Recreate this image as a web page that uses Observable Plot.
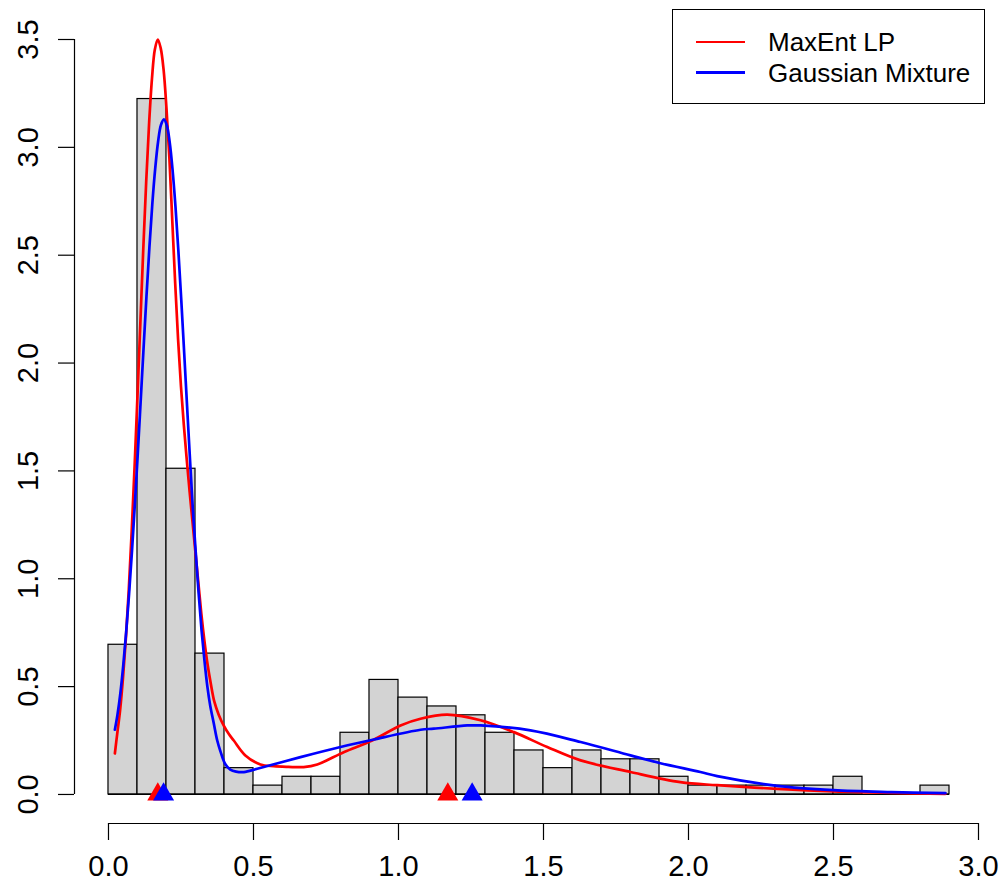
<!DOCTYPE html>
<html><head><meta charset="utf-8">
<script src="https://cdn.jsdelivr.net/npm/d3@7"></script>
<script src="https://cdn.jsdelivr.net/npm/@observablehq/plot@0.6"></script>
<style>
body{margin:0;background:#fff;}
#wrap{position:relative;width:1006px;height:888px;font-family:"Liberation Sans",Arial,Helvetica,sans-serif;}
#legend{position:absolute;left:672px;top:9px;width:313px;height:95px;box-sizing:border-box;border:1.3px solid #000;background:#fff;}
.sw{position:absolute;left:23px;width:49px;height:2.5px;}
.lb{position:absolute;left:95px;font-size:26px;line-height:1;white-space:nowrap;transform:translateY(-50%);color:#000;}
</style></head>
<body>
<div id="wrap"></div>
<script>
// Histogram bins (lower edges, width 0.1) and densities
const binLo = [0.0,0.1,0.2,0.3,0.4,0.5,0.6,0.7,0.8,0.9,1.0,1.1,1.2,1.3,1.4,1.5,1.6,1.7,1.8,1.9,2.0,2.1,2.2,2.3,2.4,2.5,2.6,2.7,2.8];
const binDensity = [0.694,3.224,1.510,0.653,0.122,0.041,0.082,0.082,0.286,0.531,0.449,0.408,0.367,0.286,0.204,0.122,0.204,0.163,0.163,0.082,0.041,0.041,0.041,0.041,0.041,0.082,0,0,0.041];
const binWidth = 0.1;

// MaxEnt LP density curve
const maxentX = [0.022,0.03,0.04,0.05,0.06,0.07,0.08,0.09,0.10,0.11,0.12,0.13,0.14,0.15,0.16,0.17,0.18,0.19,0.20,0.21,0.22,0.23,0.24,0.25,0.26,0.27,0.28,0.29,0.30,0.31,0.32,0.331,0.342,0.352,0.365,0.380,0.398,0.415,0.432,0.472,0.524,0.570,0.620,0.673,0.720,0.811,0.909,1.007,1.076,1.168,1.283,1.398,1.513,1.628,1.800,1.972,2.099,2.306,2.500,2.700,2.886];
const maxentY = [0.19,0.28,0.39,0.54,0.725,0.95,1.22,1.52,1.85,2.19,2.53,2.84,3.11,3.32,3.455,3.50,3.46,3.36,3.18,2.95,2.66,2.37,2.11,1.89,1.71,1.55,1.40,1.26,1.12,0.98,0.84,0.71,0.60,0.52,0.43,0.37,0.318,0.28,0.25,0.181,0.139,0.131,0.128,0.127,0.139,0.196,0.250,0.320,0.351,0.370,0.344,0.289,0.220,0.158,0.104,0.057,0.043,0.026,0.014,0.007,0.003];

// Gaussian Mixture density curve
const gmX = [0.022,0.031,0.041,0.051,0.061,0.071,0.081,0.091,0.101,0.111,0.121,0.131,0.141,0.151,0.161,0.171,0.181,0.191,0.201,0.211,0.221,0.231,0.241,0.251,0.261,0.271,0.281,0.291,0.301,0.311,0.321,0.331,0.341,0.351,0.363,0.375,0.386,0.403,0.420,0.440,0.467,0.513,0.662,0.800,0.915,1.076,1.122,1.237,1.283,1.455,1.628,1.800,1.903,2.041,2.099,2.306,2.500,2.700,2.886];
const gmY = [0.30,0.37,0.47,0.60,0.753,0.93,1.128,1.347,1.58,1.824,2.07,2.31,2.535,2.735,2.90,3.026,3.104,3.13,3.103,3.024,2.895,2.725,2.52,2.292,2.048,1.80,1.555,1.32,1.12,0.93,0.76,0.62,0.50,0.41,0.33,0.25,0.20,0.14,0.115,0.106,0.104,0.119,0.173,0.220,0.255,0.300,0.305,0.320,0.320,0.297,0.243,0.181,0.145,0.104,0.085,0.040,0.020,0.011,0.006];

// Mode markers
const maxentModes = [0.17, 1.17];
const gmModes = [0.19, 1.254];

// Axis ticks
const xTicks = [0.0,0.5,1.0,1.5,2.0,2.5,3.0];
const yTicks = [0.0,0.5,1.0,1.5,2.0,2.5,3.0,3.5];

const xMin = -0.1172, xMax = 3.0;
const yMin = -0.1346, yMax = 3.5;

const bins = binLo.map((lo, i) => ({lo, hi: lo + binWidth, d: binDensity[i]}));
const maxent = maxentX.map((x, i) => ({x, y: maxentY[i]}));
const gm = gmX.map((x, i) => ({x, y: gmY[i]}));
const fmt = d => d.toFixed(1);
const font = "'Liberation Sans', Arial, Helvetica, sans-serif";

const plot = Plot.plot({
  width: 1006, height: 888,
  marginLeft: 74, marginRight: 28, marginTop: 39, marginBottom: 65,
  x: {domain: [xMin, xMax]},
  y: {domain: [yMin, yMax]},
  style: {fontFamily: font, fontSize: "29px", color: "black", background: "white", overflow: "visible"},
  marks: [
    Plot.rect(bins, {x1: "lo", x2: "hi", y1: 0, y2: "d", fill: "#d3d3d3", stroke: "black", strokeWidth: 1.2}),
    Plot.ruleY([0], {x1: 0, x2: 2.9, stroke: "black", strokeWidth: 1.2}),
    Plot.line(maxent, {x: "x", y: "y", stroke: "#ff0000", strokeWidth: 2.7, curve: "catmull-rom"}),
    Plot.line(gm, {x: "x", y: "y", stroke: "#0000ff", strokeWidth: 2.7, curve: "catmull-rom"}),
    Plot.dot(maxentModes, {x: d => d, y: 0, symbol: "triangle", r: 7.8, fill: "#ff0000", stroke: null}),
    Plot.dot(gmModes, {x: d => d, y: 0, symbol: "triangle", r: 7.8, fill: "#0000ff", stroke: null}),
    Plot.ruleY([yMin], {x1: xTicks[0], x2: xTicks[xTicks.length - 1], stroke: "black", strokeWidth: 1.2}),
    Plot.ruleX([xMin], {y1: yTicks[0], y2: yTicks[yTicks.length - 1], stroke: "black", strokeWidth: 1.2}),
    Plot.axisX({ticks: xTicks, tickSize: 17, tickPadding: 15, tickFormat: fmt, fontSize: 29, strokeWidth: 1.2}),
    Plot.axisY({ticks: yTicks, tickSize: 16, tickPadding: 21, tickRotate: -90, tickFormat: fmt, fontSize: 29, strokeWidth: 1.2})
  ]
});
const wrap = document.getElementById("wrap");
wrap.appendChild(plot);

// Legend
const legend = document.createElement("div");
legend.id = "legend";
const items = [{label: "MaxEnt LP", color: "#ff0000", y: 32}, {label: "Gaussian Mixture", color: "#0000ff", y: 62.7}];
for (const it of items) {
  const sw = document.createElement("div");
  sw.className = "sw";
  sw.style.top = (it.y - 1.25) + "px";
  sw.style.background = it.color;
  legend.appendChild(sw);
  const lb = document.createElement("div");
  lb.className = "lb";
  lb.style.top = it.y + "px";
  lb.textContent = it.label;
  legend.appendChild(lb);
}
wrap.appendChild(legend);
</script>
</body></html>
